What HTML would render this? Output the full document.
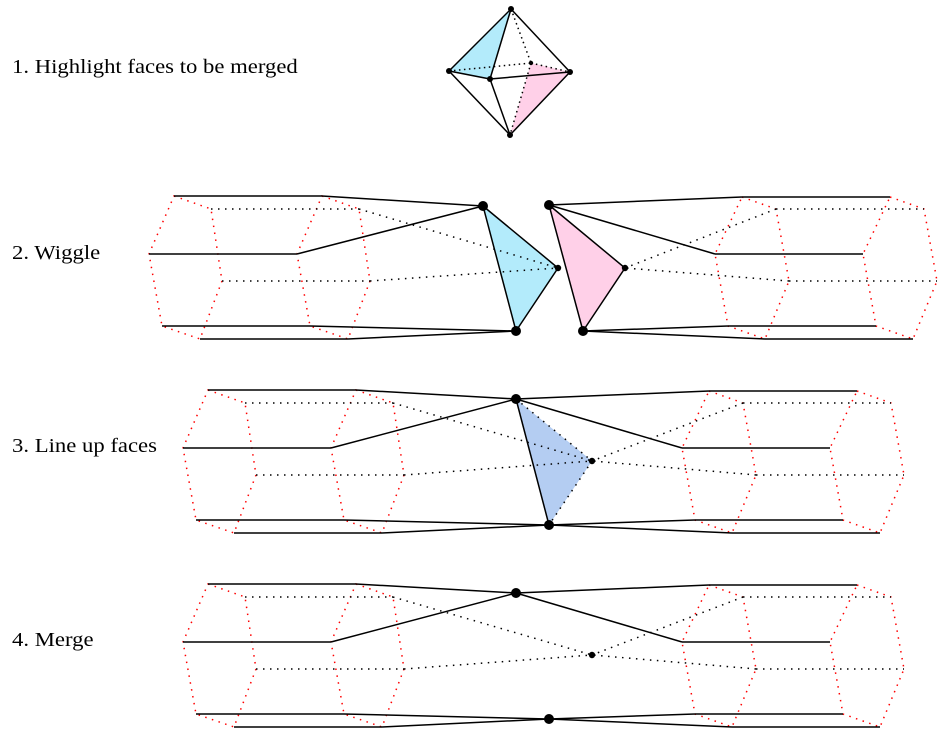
<!DOCTYPE html>
<html><head><meta charset="utf-8"><style>
html,body{margin:0;padding:0;background:#fff;width:947px;height:746px;overflow:hidden}
.t{position:absolute;left:12px;font-family:"Liberation Serif",serif;font-size:20px;color:#000;line-height:1;transform:scaleX(1.135);transform-origin:0 0;white-space:nowrap}
</style></head><body>
<div class="t" style="top:57px">1. Highlight faces to be merged</div>
<div class="t" style="top:243px">2. Wiggle</div>
<div class="t" style="top:436px">3. Line up faces</div>
<div class="t" style="top:630px">4. Merge</div>
<svg width="947" height="746" style="position:absolute;left:0;top:0" xmlns="http://www.w3.org/2000/svg">
<defs>
<g id="L">
<g fill="none" stroke="#f00" stroke-width="1.5" stroke-dasharray="1.5 5.5">
<polygon points="174,196 211,209 222,281 200,339 162,326 149,254"/>
<polygon points="322,196 359,209 370,281 348,339 310,326 297,254"/>
</g>
<g stroke="#000" stroke-width="1.5">
<line x1="174" y1="196" x2="322" y2="196"/><line x1="149" y1="254" x2="297" y2="254"/>
<line x1="162" y1="326" x2="310" y2="326"/><line x1="200" y1="339" x2="348" y2="339"/>
</g>
<g stroke="#000" stroke-width="1.5" stroke-dasharray="1.5 5.5">
<line x1="211" y1="209" x2="359" y2="209"/><line x1="222" y1="281" x2="370" y2="281"/>
</g>
</g>
<g id="R">
<g fill="none" stroke="#f00" stroke-width="1.5" stroke-dasharray="1.5 5.5">
<polygon points="742,197 776,209 789,281 765,339 728,326 715,254"/>
<polygon points="890,197 924,209 937,281 913,339 876,326 863,254"/>
</g>
<g stroke="#000" stroke-width="1.5">
<line x1="742" y1="197" x2="890" y2="197"/><line x1="715" y1="254" x2="863" y2="254"/>
<line x1="728" y1="326" x2="876" y2="326"/><line x1="765" y1="339" x2="913" y2="339"/>
</g>
<g stroke="#000" stroke-width="1.5" stroke-dasharray="1.5 5.5">
<line x1="776" y1="209" x2="924" y2="209"/><line x1="789" y1="281" x2="937" y2="281"/>
</g>
</g>
<g id="C">
<g stroke="#000" stroke-width="1.5">
<line x1="356" y1="196" x2="516" y2="205"/><line x1="331" y1="254" x2="516" y2="205"/>
<line x1="344" y1="326" x2="549" y2="331"/><line x1="382" y1="339" x2="549" y2="331"/>
<line x1="709" y1="197" x2="516" y2="205"/><line x1="682" y1="254" x2="516" y2="205"/>
<line x1="695" y1="326" x2="549" y2="331"/><line x1="732" y1="339" x2="549" y2="331"/>
</g>
<g stroke="#000" stroke-width="1.5" stroke-dasharray="1.5 5.5">
<line x1="393" y1="209" x2="592" y2="267"/><line x1="404" y1="281" x2="592" y2="267"/>
<line x1="743" y1="209" x2="592" y2="267"/><line x1="756" y1="281" x2="592" y2="267"/>
</g>
</g>
</defs>

<polygon points="511,9 449,71 490,79" fill="#b3ebfb"/>
<polygon points="531,63 570,72 510,135" fill="#ffd0e8"/>
<g stroke="#000" stroke-width="1.5" stroke-dasharray="1.5 3.5">
<line x1="511" y1="9" x2="531" y2="63"/><line x1="449" y1="71" x2="531" y2="63"/>
<line x1="531" y1="63" x2="570" y2="72"/><line x1="531" y1="63" x2="510" y2="135"/>
</g>
<g stroke="#000" stroke-width="1.5">
<line x1="511" y1="9" x2="449" y2="71"/><line x1="511" y1="9" x2="490" y2="79"/>
<line x1="511" y1="9" x2="570" y2="72"/><line x1="449" y1="71" x2="490" y2="79"/>
<line x1="490" y1="79" x2="570" y2="72"/><line x1="449" y1="71" x2="510" y2="135"/>
<line x1="490" y1="79" x2="510" y2="135"/><line x1="570" y1="72" x2="510" y2="135"/>
</g>
<g fill="#000"><circle cx="511" cy="9" r="3"/><circle cx="449" cy="71" r="3"/><circle cx="490" cy="79" r="3"/><circle cx="570" cy="72" r="3"/><circle cx="531" cy="63" r="2.2"/><circle cx="510" cy="135" r="3"/></g>

<polygon points="483,206 558,268 516,331" fill="#b3ebfb"/>
<polygon points="549,205 625,268 583,331" fill="#ffd0e8"/>
<use href="#L"/><use href="#R"/>
<g stroke="#000" stroke-width="1.5">
<line x1="322" y1="196" x2="483" y2="206"/><line x1="297" y1="254" x2="483" y2="206"/>
<line x1="310" y1="326" x2="516" y2="331"/><line x1="348" y1="339" x2="516" y2="331"/>
<polygon points="483,206 558,268 516,331" fill="none"/>
<line x1="742" y1="197" x2="549" y2="205"/><line x1="715" y1="254" x2="549" y2="205"/>
<line x1="728" y1="326" x2="583" y2="331"/><line x1="765" y1="339" x2="583" y2="331"/>
<polygon points="549,205 625,268 583,331" fill="none"/>
</g>
<g stroke="#000" stroke-width="1.5" stroke-dasharray="1.5 5.5">
<line x1="359" y1="209" x2="558" y2="268"/><line x1="370" y1="281" x2="558" y2="268"/>
<line x1="776" y1="209" x2="625" y2="268"/><line x1="789" y1="281" x2="625" y2="268"/>
</g>
<g fill="#000"><circle cx="483" cy="206" r="5"/><circle cx="516" cy="331" r="5"/><circle cx="549" cy="205" r="5"/><circle cx="583" cy="331" r="5"/><circle cx="558" cy="268" r="3.2"/><circle cx="625" cy="268" r="3.2"/></g>

<polygon points="516,399 592,461 549,525" fill="#b4cdf2"/>
<g transform="translate(34,194)"><use href="#L"/></g>
<g transform="translate(-33,194)"><use href="#R"/></g>
<g transform="translate(0,194)"><use href="#C"/></g>
<line x1="516" y1="399" x2="549" y2="525" stroke="#000" stroke-width="1.5"/>
<g stroke="#000" stroke-width="1.5" stroke-dasharray="1.5 5.5">
<line x1="516" y1="399" x2="592" y2="461"/><line x1="592" y1="461" x2="549" y2="525"/>
</g>
<g fill="#000"><circle cx="516" cy="399" r="5"/><circle cx="549" cy="525" r="5"/><circle cx="592" cy="461" r="3.2"/></g>

<g transform="translate(34,388)"><use href="#L"/></g>
<g transform="translate(-33,388)"><use href="#R"/></g>
<g transform="translate(0,388)"><use href="#C"/></g>
<g fill="#000"><circle cx="516" cy="593" r="5"/><circle cx="549" cy="719" r="5"/><circle cx="592" cy="655" r="3.2"/></g>
</svg>
</body></html>
